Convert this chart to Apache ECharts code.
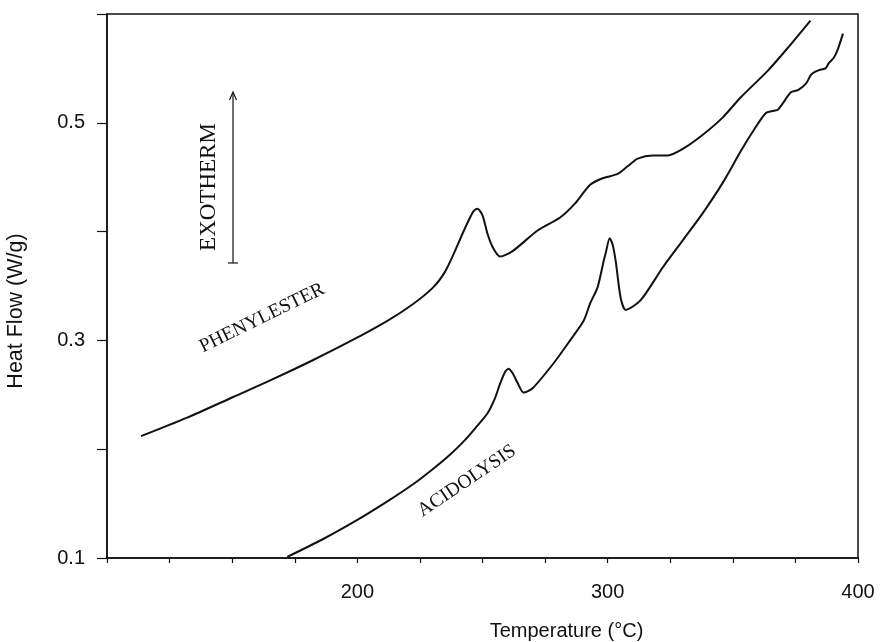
<!DOCTYPE html>
<html>
<head>
<meta charset="utf-8">
<script src="https://cdn.jsdelivr.net/npm/echarts@6/dist/echarts.min.js"></script>
<style>
  html, body { margin: 0; padding: 0; background: #fff; }
  #chart { width: 883px; height: 642px; }
</style>
</head>
<body>
<div id="chart"></div>
<script>
// DSC traces (temperature in °C, heat flow in W/g)
const phenylTemp = [113.6, 132, 150.4, 165, 182.4, 197, 212, 222, 230.4, 235, 238.4, 242, 244.4, 246.5, 248, 250, 252, 254, 257, 262, 272, 281, 287, 293, 298, 304, 308, 312, 318, 324, 330, 338, 346, 353, 364, 372, 381]
const phenylFlow = [0.212, 0.229, 0.248, 0.263, 0.282, 0.299, 0.318, 0.333, 0.349, 0.363, 0.379, 0.398, 0.410, 0.419, 0.421, 0.415, 0.398, 0.386, 0.377, 0.382, 0.401, 0.413, 0.426, 0.443, 0.449, 0.453, 0.460, 0.467, 0.470, 0.470, 0.476, 0.489, 0.505, 0.523, 0.548, 0.569, 0.594]

const acidTemp = [172, 186, 200, 212, 222.4, 229.2, 237, 242.4, 247, 252, 255, 257, 259, 260.4, 262, 264, 266.4, 270, 278.4, 285, 290.4, 293, 296, 298.4, 299.2, 300.8, 302, 303.2, 305.2, 307.2, 313.2, 322, 330, 338, 346, 353.2, 358, 363.2, 366.4, 368, 370, 373.2, 376, 379.2, 381.2, 383, 385.2, 387, 388.4, 390.4, 392, 394]
const acidFlow = [0.101, 0.117, 0.135, 0.152, 0.168, 0.180, 0.195, 0.207, 0.219, 0.233, 0.247, 0.260, 0.271, 0.274, 0.270, 0.261, 0.252, 0.256, 0.279, 0.300, 0.318, 0.334, 0.349, 0.373, 0.380, 0.394, 0.388, 0.373, 0.339, 0.328, 0.337, 0.367, 0.392, 0.417, 0.445, 0.474, 0.492, 0.509, 0.511, 0.512, 0.518, 0.528, 0.530, 0.536, 0.544, 0.547, 0.549, 0.550, 0.555, 0.560, 0.568, 0.582]

const xLabels = [200, 300, 400]
const yLabels = [0.1, 0.3, 0.5]

const ink = '#111'
const sans = 'Liberation Sans'
const serif = 'Liberation Serif'

const zip = (xs, ys) => xs.map((x, i) => [x, ys[i]])

const myChart = echarts.init(document.getElementById('chart'))

const option = {
  animation: false,
  backgroundColor: '#fff',
  grid: {
    left: 107, right: 25, top: 14, bottom: 84,
    containLabel: false,
    outerBoundsMode: 'none',
    show: true, borderColor: ink, borderWidth: 1.5
  },
  xAxis: {
    type: 'value',
    min: 100, max: 400, interval: 25,
    name: 'Temperature (°C)',
    nameLocation: 'middle',
    nameGap: 63,
    nameTextStyle: { fontFamily: sans, fontSize: 20, color: ink, padding: [0, 0, 0, 168] },
    axisLine: { lineStyle: { color: ink, width: 1.5 } },
    axisTick: { length: 5, lineStyle: { color: ink, width: 1.2 } },
    splitLine: { show: false },
    axisLabel: {
      margin: 24,
      fontFamily: sans, fontSize: 20, color: ink,
      formatter: v => xLabels.includes(v) ? String(v) : ''
    }
  },
  yAxis: {
    type: 'value',
    min: 0.1, max: 0.6, interval: 0.1,
    name: 'Heat Flow (W/g)',
    nameLocation: 'middle',
    nameGap: 80,
    nameTextStyle: { fontFamily: sans, fontSize: 21.5, color: ink, padding: [0, 50, 0, 0] },
    axisLine: { show: true, lineStyle: { color: ink, width: 1.5 } },
    axisTick: { show: true, length: 10, lineStyle: { color: ink, width: 1.2 } },
    splitLine: { show: false },
    axisLabel: {
      margin: 22,
      fontFamily: sans, fontSize: 20, color: ink,
      formatter: v => yLabels.some(l => Math.abs(l - v) < 1e-6) ? v.toFixed(1) : ''
    }
  },
  series: [
    {
      name: 'PHENYLESTER',
      type: 'line',
      data: zip(phenylTemp, phenylFlow),
      showSymbol: false,
      smooth: 0.25,
      lineStyle: { color: ink, width: 2 }
    },
    {
      name: 'ACIDOLYSIS',
      type: 'line',
      data: zip(acidTemp, acidFlow),
      showSymbol: false,
      smooth: 0.25,
      lineStyle: { color: ink, width: 2 }
    }
  ],
  graphic: [
    // curve labels
    {
      type: 'text', x: 262, y: 318, rotation: 26 * Math.PI / 180,
      style: { text: 'PHENYLESTER', fontFamily: serif, fontSize: 19.5, fill: ink, align: 'center', verticalAlign: 'middle' }
    },
    {
      type: 'text', x: 467, y: 481, rotation: 34 * Math.PI / 180,
      style: { text: 'ACIDOLYSIS', fontFamily: serif, fontSize: 19.5, fill: ink, align: 'center', verticalAlign: 'middle' }
    },
    // exotherm direction marker
    {
      type: 'text', x: 209, y: 187, rotation: Math.PI / 2,
      style: { text: 'EXOTHERM', fontFamily: serif, fontSize: 23, fill: ink, align: 'center', verticalAlign: 'middle' }
    },
    {
      type: 'line', shape: { x1: 233, y1: 263, x2: 233, y2: 93 },
      style: { stroke: ink, lineWidth: 1.2 }
    },
    {
      type: 'line', shape: { x1: 228, y1: 263, x2: 238, y2: 263 },
      style: { stroke: ink, lineWidth: 1.2 }
    },
    {
      type: 'polyline', shape: { points: [[229.5, 100], [233, 92], [236.5, 100]] },
      style: { stroke: ink, lineWidth: 1.2, fill: null }
    }
  ]
}

myChart.setOption(option)
window.addEventListener('resize', () => myChart.resize())
</script>
</body>
</html>
